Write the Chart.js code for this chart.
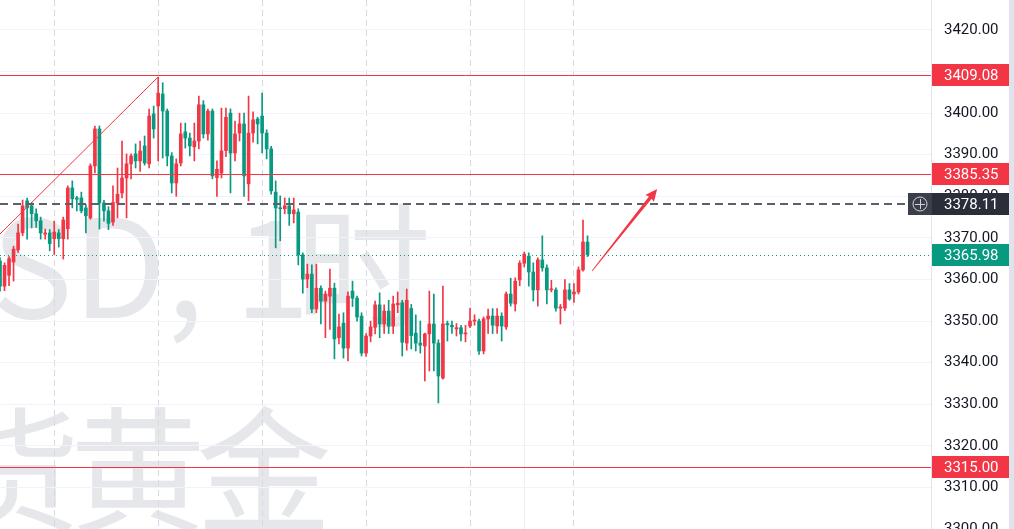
<!DOCTYPE html>
<html>
<head>
<meta charset="utf-8">
<script src="https://cdn.jsdelivr.net/npm/chart.js@4.4.1/dist/chart.umd.min.js"></script>
<style>
    html, body { margin: 0; padding: 0; background: #e0e3eb; }
    #wrap { width: 1009px; height: 529px; background: #ffffff; }
</style>
</head>
<body>
<div id="wrap"><canvas id="chart1"></canvas></div>
<script>

// candles, 1h
const opens = [3364.4,3358.4,3361.0,3364.2,3367.1,3371.2,3378.9,3377.7,3375.8,3374.1,3370.9,3371.2,3369.8,3371.2,3369.8,3372.2,3382.0,3379.6,3379.6,3377.2,
    3374.8,3387.3,3396.2,3378.4,3376.5,3373.8,3378.4,3380.8,3384.4,3387.8,3390.2,3388.5,3392.1,3387.8,3399.8,3401.7,3404.6,3400.5,3389.7,3383.2,
    3388.0,3395.5,3394.0,3391.9,3393.3,3402.0,3395.0,3400.5,3384.5,3385.6,3391.0,3400.0,3390.4,3395.2,3397.4,3383.0,3395.2,3398.6,3399.3,3395.2,
    3391.4,3381.0,3377.2,3377.0,3377.7,3375.8,3376.2,3365.9,3360.1,3361.3,3352.9,3357.9,3354.8,3356.0,3357.9,3346.0,3349.5,3343.5,3357.2,3355.5,
    3351.2,3342.3,3346.4,3348.5,3353.9,3349.3,3352.4,3348.8,3353.9,3354.4,3344.7,3353.0,3347.1,3344.7,3344.0,3346.9,3349.3,3344.7,3336.3,3349.4,
    3349.0,3348.1,3348.4,3346.9,3348.8,3350.0,3350.0,3342.8,3350.5,3351.2,3348.8,3351.2,3348.6,3356.5,3354.1,3359.9,3363.9,3365.6,3361.8,3357.5,
    3364.7,3362.8,3357.5,3357.5,3353.1,3353.1,3357.5,3356.5,3357.0,3362.3,3369.0];
const highs = [3365.2,3364.0,3365.5,3368.0,3373.3,3379.1,3379.6,3378.5,3377.0,3375.0,3372.1,3372.0,3374.0,3372.0,3375.0,3382.5,3383.7,3380.0,3381.0,3378.0,
    3387.8,3396.9,3396.9,3379.0,3377.5,3382.5,3386.8,3393.3,3390.2,3390.2,3392.6,3393.3,3394.5,3401.0,3401.7,3408.6,3407.3,3401.0,3390.5,3389.0,
    3397.6,3397.6,3395.2,3397.6,3404.1,3403.0,3401.0,3401.0,3388.5,3401.2,3401.2,3401.0,3398.1,3400.0,3400.0,3404.1,3400.3,3399.0,3404.8,3396.0,
    3392.0,3383.7,3380.1,3379.6,3379.6,3379.6,3377.0,3366.4,3363.7,3363.5,3363.7,3358.5,3357.2,3362.5,3359.1,3351.7,3352.0,3357.0,3359.6,3356.0,
    3352.0,3347.0,3350.0,3354.8,3356.8,3353.9,3355.0,3356.0,3357.0,3355.0,3357.7,3354.0,3351.5,3350.0,3347.1,3357.2,3356.5,3345.5,3358.4,3350.0,
    3350.0,3349.4,3349.0,3349.0,3353.1,3351.5,3350.5,3351.0,3352.9,3353.0,3353.0,3352.0,3357.0,3360.3,3360.4,3364.5,3366.6,3366.4,3364.0,3365.2,
    3370.5,3363.5,3359.8,3358.0,3354.0,3360.0,3359.0,3359.0,3363.0,3374.3,3370.5];
const lows = [3357.2,3357.3,3358.5,3359.6,3366.5,3370.5,3369.7,3372.4,3372.5,3369.7,3369.7,3366.9,3366.0,3367.8,3364.9,3369.7,3377.2,3376.5,3376.0,3371.2,
    3374.5,3385.6,3372.1,3374.0,3372.0,3373.0,3374.8,3379.6,3374.8,3384.2,3386.8,3386.0,3387.5,3386.8,3394.0,3388.5,3389.2,3387.3,3380.8,3380.0,
    3387.3,3391.6,3389.7,3388.5,3391.4,3394.0,3393.5,3384.2,3380.0,3384.4,3389.5,3380.8,3388.5,3393.3,3380.0,3378.9,3393.0,3392.6,3390.4,3389.0,
    3380.5,3367.6,3369.3,3375.8,3373.0,3373.6,3363.5,3356.7,3358.0,3352.0,3352.0,3349.3,3346.0,3348.0,3340.9,3344.5,3341.1,3340.4,3353.5,3350.0,
    3341.6,3341.5,3345.0,3346.9,3346.0,3347.0,3347.0,3347.0,3352.0,3341.6,3343.0,3343.3,3342.8,3342.3,3335.6,3338.0,3338.0,3330.3,3336.0,3345.2,
    3347.0,3346.4,3345.2,3345.0,3348.4,3349.0,3342.0,3342.1,3347.0,3347.0,3347.0,3345.2,3348.0,3353.6,3352.4,3358.5,3363.0,3358.4,3354.8,3353.6,
    3362.0,3354.1,3357.0,3352.4,3349.3,3352.5,3355.0,3354.5,3356.5,3362.0,3365.5];
const closes = [3358.4,3363.4,3365.0,3367.3,3371.2,3377.7,3377.2,3375.8,3374.1,3371.2,3371.2,3368.6,3371.4,3369.8,3374.3,3382.0,3379.4,3379.3,3376.5,3375.3,
    3387.3,3396.2,3378.4,3376.5,3373.5,3378.5,3380.5,3384.4,3387.8,3389.7,3388.5,3390.9,3388.0,3399.3,3396.2,3404.8,3400.5,3389.7,3383.2,3387.8,
    3395.0,3394.0,3392.1,3393.3,3402.0,3395.0,3400.5,3384.9,3386.5,3390.9,3399.0,3390.4,3395.0,3397.4,3384.9,3395.2,3398.4,3397.4,3395.2,3391.4,
    3381.3,3377.2,3377.0,3377.7,3375.8,3376.7,3365.9,3360.1,3361.3,3352.9,3357.9,3354.8,3356.5,3357.9,3345.7,3348.6,3343.5,3356.0,3355.5,3351.0,
    3342.3,3346.4,3348.6,3353.9,3349.3,3352.4,3348.8,3354.1,3354.3,3344.9,3355.0,3346.5,3344.7,3344.2,3346.9,3349.3,3344.7,3336.8,3349.3,3349.1,
    3348.6,3348.4,3346.9,3347.1,3350.0,3350.2,3342.8,3350.5,3351.2,3349.0,3351.2,3348.8,3356.5,3354.3,3359.6,3363.9,3366.1,3361.8,3357.5,3364.7,
    3362.8,3357.5,3357.7,3353.1,3353.4,3357.5,3355.3,3357.0,3362.3,3369.0,3365.98];

// time slots on the axis (candles + empty space on the right)
const slot_count = 207;
const session_breaks = [12, 35, 58, 81, 104, 127];
const plain_grid = [116];

// drawn levels
const red_levels = [3409.08, 3385.35, 3315.00];
const last_level = 3378.11;
const close_level = 3365.98;
const trend_x = [0, 35];
const trend_y = [3370.94, 3408.70];
const arrow_x = [131, 145.4];
const arrow_y = [3362.04, 3381.76];

const up_color = '#f23645';
const down_color = '#089981';

const labels = [];
for (let i = 0; i < slot_count; i++) labels.push(String(i));

const candle_colors = opens.map((o, i) => closes[i] >= o ? up_color : down_color);
const bodies = opens.map((o, i) => [o, closes[i]]);
const wicks = lows.map((l, i) => [l, highs[i]]);

const trend_data = labels.map(() => null);
trend_x.forEach((x, i) => { trend_data[x] = trend_y[i]; });

const watermark = {
    id: 'watermark',
    beforeDraw(chart) {
        const ctx = chart.ctx;
        ctx.save();
        ctx.fillStyle = '#e6e7eb';
        ctx.textAlign = 'right';
        ctx.textBaseline = 'alphabetic';
        ctx.font = "136px 'Noto Sans CJK SC'";
        ctx.fillText('时', 431, 318);
        ctx.fillText('XAUUSD, 1', 310, 318);
        ctx.letterSpacing = '-10px';
        ctx.fillText('现货黄金', 322, 522);
        ctx.restore();
    },
};

const levels = {
    id: 'levels',
    afterDatasetsDraw(chart) {
        const ctx = chart.ctx;
        const area = chart.chartArea;
        const xs = chart.scales.x;
        const ys = chart.scales.y;
        ctx.save();

        // red horizontal lines
        ctx.strokeStyle = up_color;
        ctx.lineWidth = 1;
        red_levels.forEach(v => {
            const y = Math.round(ys.getPixelForValue(v)) + 0.5;
            ctx.beginPath();
            ctx.moveTo(area.left, y);
            ctx.lineTo(area.right, y);
            ctx.stroke();
        });

        // close price, dotted
        let y = Math.round(ys.getPixelForValue(close_level)) + 0.5;
        ctx.strokeStyle = down_color;
        ctx.setLineDash([1, 3]);
        ctx.beginPath();
        ctx.moveTo(area.left, y);
        ctx.lineTo(area.right, y);
        ctx.stroke();

        // crosshair level, dashed
        y = Math.round(ys.getPixelForValue(last_level));
        ctx.strokeStyle = '#5d606b';
        ctx.lineWidth = 2;
        ctx.setLineDash([8, 5]);
        ctx.beginPath();
        ctx.moveTo(area.left, y);
        ctx.lineTo(area.right - 23, y);
        ctx.stroke();
        ctx.setLineDash([]);

        // arrow
        const x1 = xs.getPixelForValue(arrow_x[0]);
        const y1 = ys.getPixelForValue(arrow_y[0]);
        const x2 = xs.getPixelForValue(arrow_x[1]);
        const y2 = ys.getPixelForValue(arrow_y[1]);
        const len = Math.hypot(x2 - x1, y2 - y1);
        ctx.translate(x1, y1);
        ctx.rotate(Math.atan2(y2 - y1, x2 - x1));
        ctx.fillStyle = up_color;
        ctx.beginPath();
        ctx.moveTo(0, -0.4);
        ctx.lineTo(len - 11, -1.7);
        ctx.lineTo(len - 12, -5.5);
        ctx.lineTo(len, 0);
        ctx.lineTo(len - 12, 5.5);
        ctx.lineTo(len - 11, 1.7);
        ctx.lineTo(0, 0.4);
        ctx.closePath();
        ctx.fill();
        ctx.restore();
    },
    afterDraw(chart) {
        const ctx = chart.ctx;
        const area = chart.chartArea;
        const ys = chart.scales.y;
        const box = (v, color, left) => {
            const yc = Math.round(ys.getPixelForValue(v));
            ctx.fillStyle = color;
            ctx.fillRect(left, yc - 11, 1009 - left, 22);
            ctx.fillStyle = '#ffffff';
            ctx.font = "15px Roboto";
            ctx.textAlign = 'left';
            ctx.textBaseline = 'middle';
            ctx.fillText(v.toFixed(2), area.right + 13, yc + 1);
        };
        ctx.save();
        red_levels.forEach(v => box(v, up_color, area.right + 1));
        box(close_level, down_color, area.right + 1);
        box(last_level, '#2a2e39', area.right + 1);

        // little crosshair button left of the dark label
        const yc = Math.round(ys.getPixelForValue(last_level));
        ctx.fillStyle = '#3b3f4a';
        ctx.fillRect(area.right - 23, yc - 11, 24, 22);
        ctx.strokeStyle = '#d1d4dc';
        ctx.lineWidth = 1;
        ctx.beginPath();
        ctx.arc(area.right - 11, yc, 7, 0, Math.PI * 2);
        ctx.moveTo(area.right - 16, yc + 0.5);
        ctx.lineTo(area.right - 6, yc + 0.5);
        ctx.moveTo(area.right - 10.5, yc - 5);
        ctx.lineTo(area.right - 10.5, yc + 5);
        ctx.stroke();
        ctx.restore();
    },
};

const config_candles = {
    type: 'bar',
    data: {
        labels: labels,
        datasets: [{
            type: 'line',
            label: 'trend',
            data: trend_data,
            borderColor: up_color,
            borderWidth: 1,
            pointRadius: 0,
            spanGaps: true,
            order: 0,
        }, {
            label: 'body',
            data: bodies,
            backgroundColor: candle_colors,
            barThickness: 3,
            minBarLength: 1,
            grouped: false,
            order: 1,
        }, {
            label: 'wick',
            data: wicks,
            backgroundColor: candle_colors,
            barThickness: 1,
            grouped: false,
            order: 2,
        }],
    },
    options: {
        animation: false,
        responsive: true,
        maintainAspectRatio: false,
        devicePixelRatio: 1,
        layout: { padding: 0 },
        plugins: {
            legend: { display: false },
            tooltip: { enabled: false },
        },
        scales: {
            x: {
                type: 'category',
                offset: false,
                grid: {
                    offset: false,
                    drawTicks: false,
                    lineWidth: 1,
                    color: (c) => {
                        if (session_breaks.includes(c.index)) return '#d6d9e0';
                        if (plain_grid.includes(c.index)) return '#eceef3';
                        return 'rgba(0,0,0,0)';
                    },
                },
                border: {
                    display: false,
                    dash: (c) => plain_grid.includes(c.index) ? [] : [6, 4],
                },
                ticks: { display: false, autoSkip: false },
                afterFit: (s) => { s.height = 0; },
            },
            y: {
                position: 'right',
                min: 3300.0,
                max: 3427.2,
                grid: { color: '#f0f3fa', drawTicks: false },
                border: { display: true, color: '#e0e3eb' },
                ticks: {
                    stepSize: 10,
                    includeBounds: false,
                    padding: 13,
                    color: '#131722',
                    font: { family: 'Roboto', size: 15 },
                    callback: (v) => Number(v).toFixed(2),
                },
                afterFit: (s) => {
                    s.width = 78;
                    s.paddingTop = 0;
                    s.paddingBottom = 0;
                },
            },
        },
    },
    plugins: [watermark, levels],
};

const ctx_candles = document.getElementById('chart1').getContext('2d');
const candles = new Chart(ctx_candles, config_candles);
</script>
</body>
</html>
